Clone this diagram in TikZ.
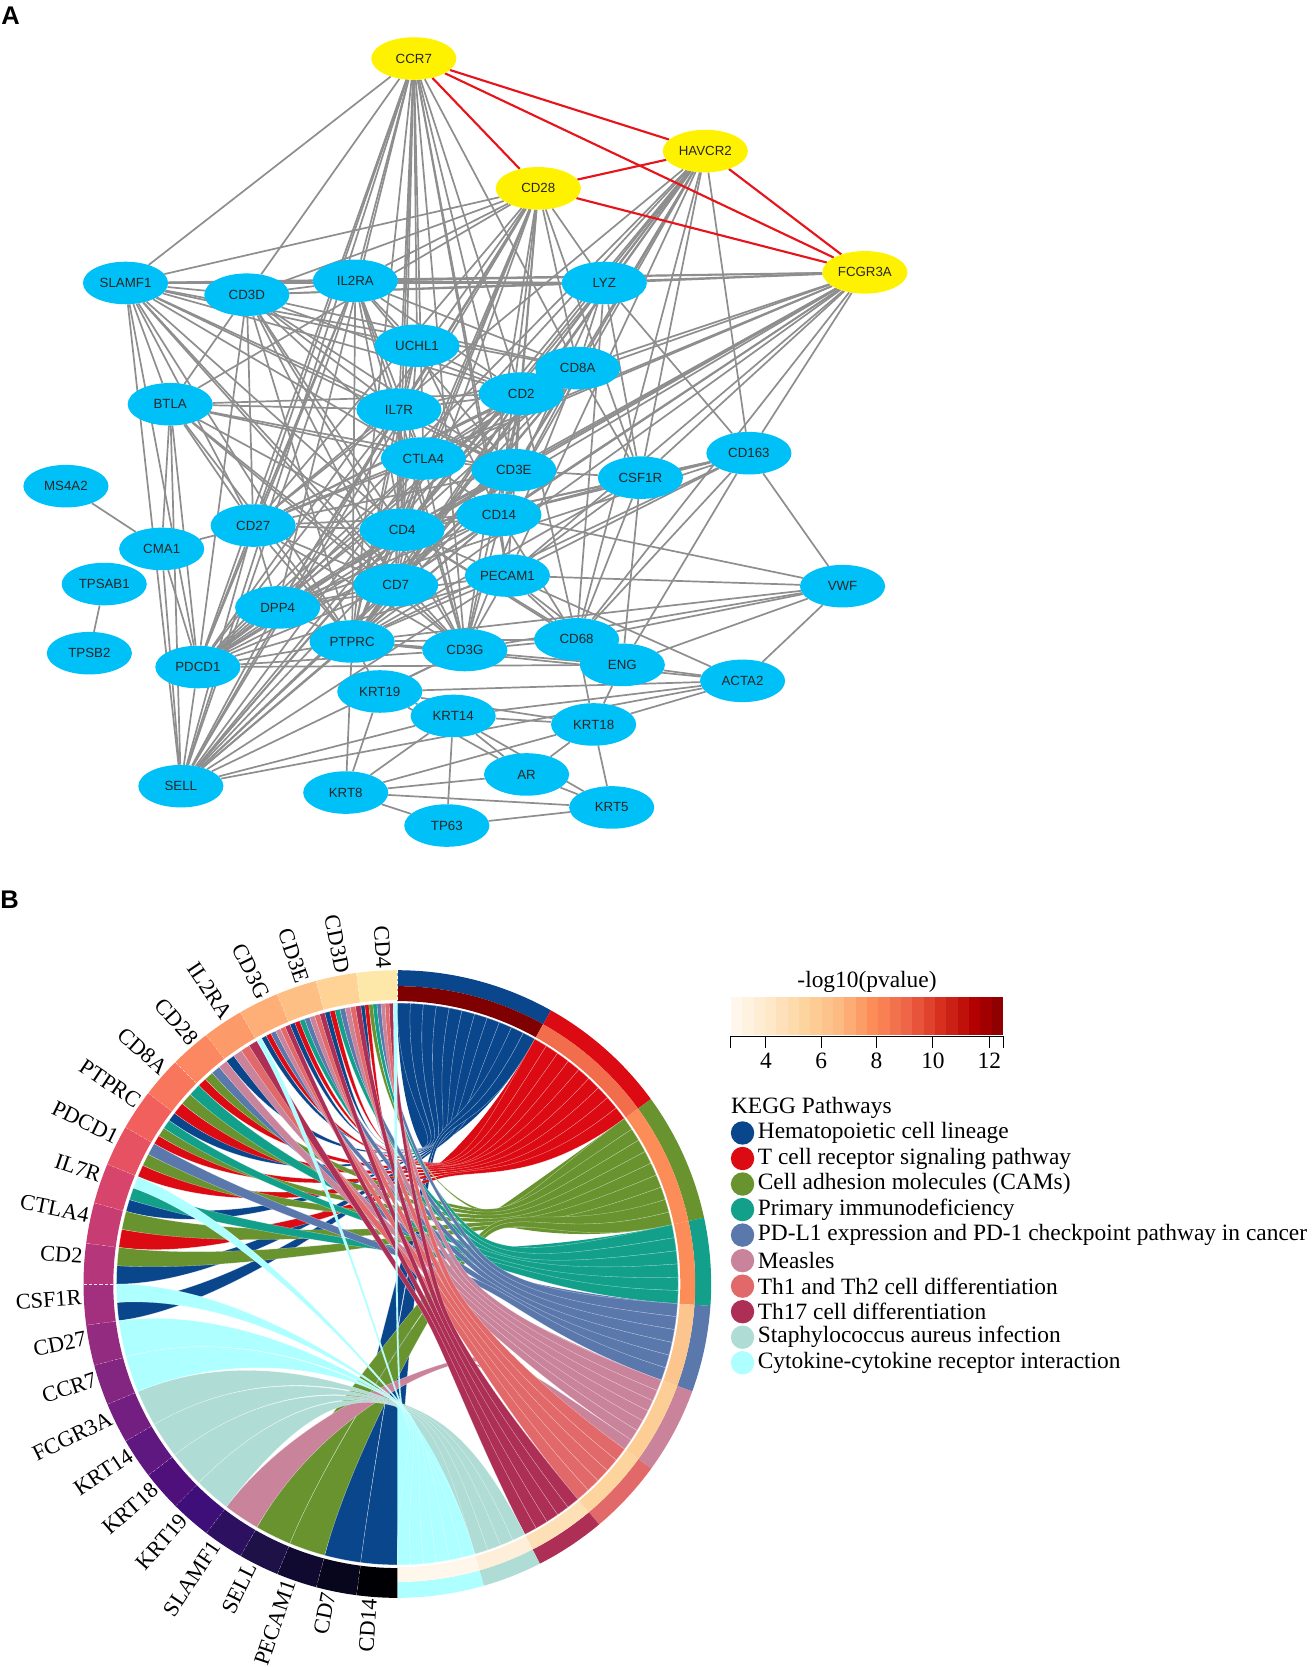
\documentclass[tikz,border=0pt]{standalone}
\usepackage{fontspec}
\setmainfont{Liberation Serif}
\newfontfamily\netfont{Liberation Sans}
\usetikzlibrary{positioning,shapes.geometric,backgrounds}
\definecolor{genefill}{HTML}{00C0F8}
\definecolor{linkgray}{HTML}{8E8E8E}
\definecolor{linkred}{HTML}{E8141C}
\definecolor{pwH}{HTML}{0A468C}
\definecolor{pwT}{HTML}{DC0A12}
\definecolor{pwC}{HTML}{68932F}
\definecolor{pwP}{HTML}{13A08A}
\definecolor{pwD}{HTML}{5B78AD}
\definecolor{pwM}{HTML}{C9839B}
\definecolor{pwA}{HTML}{E2696A}
\definecolor{pwB}{HTML}{AD2F55}
\definecolor{pwS}{HTML}{AFDCD4}
\definecolor{pwK}{HTML}{AEFFFF}
\definecolor{ora}{HTML}{FFF7EC}
\definecolor{orb}{HTML}{FEE8C8}
\definecolor{orc}{HTML}{FDD49E}
\definecolor{ord}{HTML}{FDBB84}
\definecolor{ore}{HTML}{FC8D59}
\definecolor{orf}{HTML}{EF6548}
\definecolor{org}{HTML}{D7301F}
\definecolor{orh}{HTML}{B30000}
\definecolor{ori}{HTML}{7F0000}
\tikzset{
	gene/.style={ellipse,fill=genefill,minimum width=80pt,minimum height=40pt,inner sep=0pt,font=\netfont\fontsize{12.5}{14}\selectfont,text=black!85},
	hubgene/.style={gene,fill=yellow},
	link/.style={draw=linkgray,line width=1.6pt},
	redlink/.style={draw=linkred,line width=2pt},
	panel/.style={font=\netfont\bfseries\fontsize{24}{26}\selectfont,inner sep=0pt},
	serif21/.style={font=\fontsize{21}{23}\selectfont,inner sep=0pt},
	serif22/.style={font=\fontsize{22}{24}\selectfont,inner sep=0pt},
	legdot/.style={circle,minimum size=22pt,inner sep=0pt}
}
\newcommand{\ribbons}[8]{%
	\fill[#1] (#2:264) arc[start angle=#2,end angle=#3,radius=264]
		.. controls (#3:160) and (#4,#5) .. (#4,#5)
		.. controls (#4,#5) and (#2:160) .. (#2:264) -- cycle;
	\foreach \rg/\rs/\rn [count=\rk from 0] in {#7} {
		\pgfmathsetmacro{\pa}{#2+(#3-#2)*\rk/#6}
		\pgfmathsetmacro{\pb}{#2+(#3-#2)*(\rk+1)/#6}
		\pgfmathsetmacro{\ga}{270-7.5*(\rg+\rs/\rn)}
		\pgfmathsetmacro{\gb}{270-7.5*(\rg+(\rs+1)/\rn)}
		\pgfmathsetmacro{\pc}{(\pa+\pb)/2}
		\pgfmathsetmacro{\gc}{(\ga+\gb)/2}
		\pgfmathsetmacro{\dx}{cos(\gc)-cos(\pc)}
		\pgfmathsetmacro{\dy}{sin(\gc)-sin(\pc)}
		\pgfmathsetmacro{\dl}{veclen(\dx,\dy)}
		\pgfmathsetmacro{\ux}{40*\dx/\dl}
		\pgfmathsetmacro{\uy}{40*\dy/\dl}
		\pgfmathsetmacro{\hax}{#4+#8*(\rk/#6-0.5)*sin(\pc)}
		\pgfmathsetmacro{\hay}{#5-#8*(\rk/#6-0.5)*cos(\pc)}
		\pgfmathsetmacro{\hbx}{#4+#8*((\rk+1)/#6-0.5)*sin(\pc)}
		\pgfmathsetmacro{\hby}{#5-#8*((\rk+1)/#6-0.5)*cos(\pc)}
		\path[fill=#1,draw=white,draw opacity=0.55,line width=0.3pt] (\pa:264) arc[start angle=\pa,end angle=\pb,radius=264]
			.. controls (\pb:160) and (\hbx-\ux,\hby-\uy) .. (\hbx,\hby)
			.. controls (\hbx+\ux,\hby+\uy) and (\ga:150) .. (\ga:264)
			arc[start angle=\ga,end angle=\gb,radius=264]
			.. controls (\gb:150) and (\hax+\ux,\hay+\uy) .. (\hax,\hay)
			.. controls (\hax-\ux,\hay-\uy) and (\pa:160) .. (\pa:264) -- cycle;
	}
}
\begin{document}
\begin{tikzpicture}[x=1pt,y=1pt,on grid]
	\useasboundingbox (0,0) rectangle (1233.4,-1567);
	\node[panel] (panelA) at (10,-15) {A};
	\node[panel] (panelB) at (9,-846) {B};

	\node[hubgene] (CCR7) at (389,-55) {CCR7};
	\node[hubgene] (HAVCR2) [below right=87pt and 274pt of CCR7] {HAVCR2};
	\node[hubgene] (CD28) [below left=35pt and 157pt of HAVCR2] {CD28};
	\node[hubgene] (FCGR3A) [below right=114pt and 150pt of HAVCR2] {FCGR3A};
	\node[gene] (LYZ) [below right=89pt and 62pt of CD28] {LYZ};
	\node[gene] (IL2RA) [above left=2pt and 234pt of LYZ] {IL2RA};
	\node[gene] (CD3D) [below left=13pt and 102pt of IL2RA] {CD3D};
	\node[gene] (SLAMF1) [above left=11pt and 114pt of CD3D] {SLAMF1};
	\node[gene] (UCHL1) [below right=61pt and 58pt of IL2RA] {UCHL1};
	\node[gene] (IL7R) [below left=60pt and 17pt of UCHL1] {IL7R};
	\node[gene] (BTLA) [above left=5pt and 215pt of IL7R] {BTLA};
	\node[gene] (CD8A) [below right=21pt and 151pt of UCHL1] {CD8A};
	\node[gene] (CD2) [below left=24pt and 53pt of CD8A] {CD2};
	\node[gene] (CTLA4) [below right=46pt and 23pt of IL7R] {CTLA4};
	\node[gene] (CD3E) [below right=11pt and 85pt of CTLA4] {CD3E};
	\node[gene] (CSF1R) [below right=7pt and 119pt of CD3E] {CSF1R};
	\node[gene] (CD163) [above right=23pt and 102pt of CSF1R] {CD163};
	\node[gene] (CD14) [below left=42pt and 14pt of CD3E] {CD14};
	\node[gene] (CD4) [below left=14pt and 91pt of CD14] {CD4};
	\node[gene] (CD27) [above left=4pt and 140pt of CD4] {CD27};
	\node[gene] (CMA1) [below left=22pt and 86pt of CD27] {CMA1};
	\node[gene] (MS4A2) [above left=59pt and 90pt of CMA1] {MS4A2};
	\node[gene] (TPSAB1) [below left=33pt and 54pt of CMA1] {TPSAB1};
	\node[gene] (TPSB2) [below left=65pt and 14pt of TPSAB1] {TPSB2};
	\node[gene] (PECAM1) [below right=57pt and 8pt of CD14] {PECAM1};
	\node[gene] (CD7) [below left=9pt and 105pt of PECAM1] {CD7};
	\node[gene] (VWF) [below right=10pt and 315pt of PECAM1] {VWF};
	\node[gene] (DPP4) [below left=21pt and 111pt of CD7] {DPP4};
	\node[gene] (PDCD1) [below left=56pt and 75pt of DPP4] {PDCD1};
	\node[gene] (CD3G) [below right=61pt and 65pt of CD7] {CD3G};
	\node[gene] (CD68) [above right=10pt and 105pt of CD3G] {CD68};
	\node[gene] (ENG) [below right=24pt and 43pt of CD68] {ENG};
	\node[gene] (ACTA2) [below right=15pt and 113pt of ENG] {ACTA2};
	\node[gene] (PTPRC) [below right=32pt and 70pt of DPP4] {PTPRC};
	\node[gene] (KRT19) [below right=47pt and 26pt of PTPRC] {KRT19};
	\node[gene] (KRT14) [below right=23pt and 69pt of KRT19] {KRT14};
	\node[gene] (KRT18) [below right=8pt and 132pt of KRT14] {KRT18};
	\node[gene] (AR) [below right=55pt and 69pt of KRT14] {AR};
	\node[gene] (KRT5) [below right=31pt and 80pt of AR] {KRT5};
	\node[gene] (TP63) [below left=48pt and 75pt of AR] {TP63};
	\node[gene] (KRT8) [above left=31pt and 95pt of TP63] {KRT8};
	\node[gene] (SELL) [above left=6pt and 155pt of KRT8] {SELL};

	\begin{scope}[on background layer]
		\foreach \from/\others in {
			CCR7/{SLAMF1,CD3D,IL2RA,UCHL1,IL7R,CTLA4,CD4,CD3E,CD2,CD27,CD14,CD7,PTPRC,CD3G,CD8A,PECAM1,PDCD1,DPP4,SELL},
			CD28/{SLAMF1,CD3D,IL2RA,CD2,CD8A,IL7R,CTLA4,CD3E,CD4,CD27,PDCD1,PTPRC,CD7,CD3G,DPP4,BTLA,CD14,CSF1R,LYZ,SELL},
			HAVCR2/{LYZ,CD2,CD8A,CD4,CTLA4,CD163,CD14,CD68,CSF1R,CD3E,PECAM1,CD27,PDCD1,PTPRC,SELL,CD7},
			FCGR3A/{LYZ,IL2RA,CD3D,SLAMF1,CD8A,CD2,CD163,CSF1R,CD14,CD4,CD3E,CTLA4,PECAM1,CD68,PTPRC,CD27,PDCD1,CD7,DPP4},
			SLAMF1/{CD3D,IL2RA,UCHL1,BTLA,CD8A,CD2,IL7R,CTLA4,CD3E,CD4,CD27,SELL,PDCD1,PTPRC,CD3G,CD7,LYZ},
			CD3D/{IL2RA,BTLA,IL7R,CTLA4,CD3E,CD4,CD8A,CD2,CD27,CD7,CD3G,PTPRC,PDCD1,LYZ},
			IL2RA/{LYZ,UCHL1,IL7R,CD2,CD8A,CTLA4,CD3E,CD4,CD27,SELL,PDCD1,PTPRC,CD3G},
			LYZ/{CD2,CD8A,CD14,CD4,CSF1R,CD163,CD68},
			UCHL1/{CD2,IL7R,CD4,CD14,PTPRC},
			BTLA/{CD2,IL7R,CTLA4,CD3E,CD4,CD27,CD7,PDCD1,SELL,PTPRC,CMA1,CD3G},
			CD8A/{CD2,IL7R,CTLA4,CD3E,CD4,CSF1R,CD27,PDCD1,SELL,PTPRC,CD3G,CD14,CD7},
			CD2/{IL7R,CTLA4,CD3E,CD4,CD27,PDCD1,SELL,PTPRC,CD3G,CD14,CD7,DPP4,PECAM1,CD68},
			IL7R/{CTLA4,CD3E,CD4,CD27,PDCD1,SELL,PTPRC,CD3G,CD7,DPP4},
			CD163/{CD14,CD4,CSF1R,CD68,VWF,ENG,PECAM1,PTPRC,DPP4},
			CTLA4/{CD3E,CD4,CD27,PDCD1,SELL,PTPRC,CD3G,CD7,CD14,DPP4},
			CD3E/{CSF1R,CD4,CD27,PDCD1,SELL,PTPRC,CD3G,CD7,CD14,DPP4},
			CSF1R/{CD14,CD4,CD68,ENG,PTPRC,PECAM1},
			MS4A2/{CMA1},
			TPSAB1/{TPSB2},
			CMA1/{CD27,SELL,PDCD1},
			CD14/{CD4,CD27,PECAM1,PTPRC,CD68,SELL,VWF,CD7,DPP4,PDCD1},
			CD27/{CD4,CD7,PDCD1,SELL,PTPRC,CD3G,DPP4},
			CD4/{CD7,PDCD1,SELL,PTPRC,CD3G,DPP4,PECAM1,CD68,ENG},
			PECAM1/{VWF,CD68,ENG,PTPRC,CD3G,SELL,PDCD1,ACTA2,DPP4},
			CD7/{PDCD1,PTPRC,CD3G,SELL,DPP4},
			VWF/{CD68,ENG,ACTA2,PTPRC,CD3G},
			DPP4/{PTPRC,PDCD1,SELL},
			PTPRC/{PDCD1,SELL,CD3G,CD68,ENG,ACTA2,KRT19,KRT8},
			CD3G/{PDCD1,SELL,CD68,KRT19},
			PDCD1/{SELL,ENG},
			CD68/{ENG,KRT18},
			ENG/{ACTA2,KRT18},
			ACTA2/{KRT19,KRT14,KRT18,SELL},
			KRT19/{KRT14,KRT18,KRT8,AR},
			KRT14/{KRT18,KRT5,AR,TP63,KRT8,SELL},
			KRT18/{AR,KRT5,KRT8},
			AR/{KRT5,KRT8},
			KRT8/{TP63,KRT5},
			TP63/{KRT5}}
			\foreach \to in \others
				\path[link] (\from) edge (\to);
		\path[redlink]
			(CCR7) edge (CD28)
			(CCR7) edge (HAVCR2)
			(CCR7) edge (FCGR3A)
			(CD28) edge (HAVCR2)
			(CD28) edge (FCGR3A)
			(HAVCR2) edge (FCGR3A);
	\end{scope}

	\begin{scope}[shift={(373.5,-1207)}]
		\foreach \aa/\ab/\outer/\inner in {
			90/60.7/pwH/ori,60.7/36.1/pwT/orf!80!ore,36.1/12.2/pwC/ore,12.2/-4/pwP/ore,
			-4/-20/pwD/ord!60!orc,-20/-36/pwM/orc!70!ord,-36/-50/pwA/orc,-50/-63/pwB/orb!60!orc,
			-63/-74/pwS/ora!50!orb,-74/-90/pwK/ora} {
			\fill[\outer] (\aa:295) arc[start angle=\aa,end angle=\ab,radius=295] -- (\ab:280) arc[start angle=\ab,end angle=\aa,radius=280] -- cycle;
			\fill[\inner] (\aa:280) arc[start angle=\aa,end angle=\ab,radius=280] -- (\ab:266) arc[start angle=\ab,end angle=\aa,radius=266] -- cycle;
		}
		\foreach \name/\hex [count=\g from 0] in {
			CD14/000004,CD7/07061C,PECAM1/110A30,SELL/1D1147,SLAMF1/2D1160,KRT19/3E0F78,
			KRT18/4F107B,KRT14/5F187F,FCGR3A/721F81,CCR7/822681,CD27/932B80,CSF1R/A3307E,
			CD2/B5367A,CTLA4/C73D73,IL7R/D8456C,PDCD1/E75263,PTPRC/F1605D,CD8A/F8765C,
			CD28/FB8861,IL2RA/FD9A6A,CD3G/FEAE77,CD3E/FEBF84,CD3D/FED395,CD4/FDE7A9} {
			\definecolor{ringcol}{HTML}{\hex}
			\pgfmathsetmacro{\ringa}{270-7.5*\g}
			\pgfmathsetmacro{\ringb}{270-7.5*(\g+1)}
			\pgfmathsetmacro{\ringm}{270-7.5*(\g+0.5)}
			\pgfmathsetmacro{\ringl}{\ringm-1.3}
			\pgfmathsetmacro{\ringr}{\ringm-180}
			\fill[ringcol] (\ringa:295) arc[start angle=\ringa,end angle=\ringb,radius=295] -- (\ringb:267) arc[start angle=\ringb,end angle=\ringa,radius=267] -- cycle;
			\draw[white,densely dashed,line width=0.4pt] (\ringb:267) -- (\ringb:295);
			\node[serif21,rotate=\ringr,anchor=east] (lbl\g) at (\ringl:297) {\name};
		}
		\ribbons{pwH}{90}{60.7}{25}{126}{11}{23/0/9,22/0/7,21/0/7,20/1/7,19/0/4,16/3/4,14/0/3,12/0/2,11/0/2,1/0/1,0/0/1}{22}
		\ribbons{pwT}{60.7}{36.1}{34}{109}{9}{23/1/9,22/1/7,21/1/7,20/2/7,18/0/4,17/0/3,16/0/4,15/0/3,13/0/2}{24}
		\ribbons{pwC}{36.1}{12.2}{79}{60}{9}{23/2/9,18/1/4,17/1/3,16/1/4,15/1/3,13/1/2,12/1/2,3/0/1,2/0/1}{34}
		\ribbons{pwP}{12.2}{-4}{76}{34}{6}{23/3/9,22/2/7,21/2/7,17/2/3,16/2/4,14/1/3}{30}
		\ribbons{pwD}{-4}{-20}{79}{13}{6}{23/4/9,22/3/7,21/3/7,20/3/7,18/2/4,15/2/3}{30}
		\ribbons{pwM}{-20}{-33.7}{57}{1}{6}{23/5/9,22/4/7,21/4/7,20/4/7,19/1/4,18/3/4}{28}
		\ribbons{pwM}{-33.7}{-36}{62}{-72}{1}{4/0/1}{5}
		\ribbons{pwA}{-36}{-50}{44}{-6}{5}{23/6/9,22/5/7,21/5/7,20/5/7,19/2/4}{24}
		\ribbons{pwB}{-50}{-63}{35}{-25}{5}{23/7/9,22/6/7,21/6/7,20/6/7,19/3/4}{22}
		\ribbons{pwS}{-63}{-74}{-5}{-112}{4}{8/0/1,7/0/1,6/0/1,5/0/1}{8}
		\ribbons{pwK}{-74}{-90}{0}{-110}{6}{23/8/9,20/0/7,14/2/3,11/1/2,10/0/1,9/0/1}{8}
	\end{scope}

	\node[serif22] (barTitle) at (815,-923) {-log10(pvalue)};
	\foreach \ca/\cb [count=\i from 0] in {ora/orb,orb/orc,orc/ord,ord/ore,ore/orf,orf/org,org/orh,orh/ori}
		\foreach \p [count=\j from 0] in {100,67,33} {
			\pgfmathsetmacro{\xa}{687+32*\i+10.67*\j}
			\fill[\ca!\p!\cb] (\xa,-937) rectangle (\xa+10.8,-973);
		}
	\draw[line width=0.9pt] (687,-985) -- (687,-974) -- (943,-974) -- (943,-985);
	\foreach \tx/\tl in {720/4,772/6,824/8,877/10,930/12} {
		\draw[line width=0.9pt] (\tx,-974) -- (\tx,-985);
		\node[serif22] (tick\tl) at (\tx,-997) {\tl};
	}

	\begin{scope}[on grid=false]
		\node[serif22,anchor=west] (kegg) at (687,-1041) {KEGG Pathways};
		\foreach \col/\txt [count=\i from 0] in {
			pwH/Hematopoietic cell lineage,
			pwT/T cell receptor signaling pathway,
			pwC/Cell adhesion molecules (CAMs),
			pwP/Primary immunodeficiency,
			pwD/PD-L1 expression and PD-1 checkpoint pathway in cancer,
			pwM/Measles,
			pwA/Th1 and Th2 cell differentiation,
			pwB/Th17 cell differentiation,
			pwS/Staphylococcus aureus infection,
			pwK/Cytokine-cytokine receptor interaction} {
			\node[legdot,fill=\col] (dot\i) at (698,-1065-24*\i) {};
			\node[serif22] (entry\i) [right=3pt of dot\i] {\txt};
		}
	\end{scope}
\end{tikzpicture}
\end{document}
